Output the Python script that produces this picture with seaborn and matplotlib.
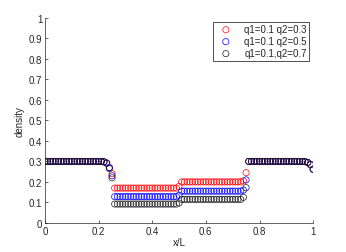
import numpy as np
import pandas as pd
import matplotlib
matplotlib.use("Agg")
import matplotlib.pyplot as plt
import seaborn as sns

# ====================================
# DATA (x step 0.01)
# ====================================

x_vals = [round(i * 0.01, 2) for i in range(101)]

left_part = [0.30] * 22 + [0.298, 0.292]
right_part = [0.30] * 21 + [0.299, 0.295, 0.285, 0.262]

red_q03 = left_part + [0.27, 0.24] + [0.17] * 24 + [0.178] + [0.20] * 23 + [0.205, 0.245] + right_part
blue_q05 = left_part + [0.27, 0.23] + [0.128] * 24 + [0.135] + [0.155] * 23 + [0.16, 0.21] + right_part
black_q07 = left_part + [0.265, 0.22] + [0.092] * 24 + [0.097] + [0.115] * 23 + [0.125, 0.172] + right_part

series_names = ["q1=0.1 q2=0.3", "q1=0.1 q2=0.5", "q1=0.1,q2=0.7"]
series_colors = ["#ff0000", "#0000ff", "#1a1a1a"]

# ====================================
# PLOT
# ====================================

sns.set_style("white")
plt.rcParams["font.family"] = ["Liberation Sans", "DejaVu Sans"]

fig = plt.figure(figsize=(3.46, 2.53), dpi=100)
ax = fig.add_axes([0.13, 0.115, 0.775, 0.81])

for vals, name, col in zip([red_q03, blue_q05, black_q07], series_names, series_colors):
    df = pd.DataFrame({"x": x_vals, "density": vals})
    sns.scatterplot(data=df, x="x", y="density", marker="o", s=20,
                    facecolors="none", edgecolor=col, linewidth=0.5,
                    label=name, ax=ax)

ax.set_xlim(0, 1)
ax.set_ylim(0, 1)
ax.set_xticks([0, 0.2, 0.4, 0.6, 0.8, 1])
ax.set_xticklabels(["0", "0.2", "0.4", "0.6", "0.8", "1"])
ax.set_yticks([i / 10 for i in range(11)])
ax.set_yticklabels(["0"] + [f"0.{i}" for i in range(1, 10)] + ["1"])
ax.tick_params(direction="in", length=2.5, width=0.5, labelsize=7, pad=2,
               colors="#262626", left=True, bottom=True)
ax.set_xlabel("x/L", fontsize=7, labelpad=1, color="#262626")
ax.set_ylabel("density", fontsize=7, labelpad=3, color="#262626")

sns.despine(ax=ax)
for side in ["left", "bottom"]:
    ax.spines[side].set_color("#262626")
    ax.spines[side].set_linewidth(0.5)

leg = ax.legend(loc="upper right", fontsize=7, frameon=True, fancybox=False,
                borderpad=0.25, handlelength=2.2, handletextpad=0.8,
                labelspacing=0.2, borderaxespad=0.4, markerscale=1.0)
leg.get_frame().set_edgecolor("black")
leg.get_frame().set_linewidth(0.6)

fig.savefig("out.png", dpi=100)
